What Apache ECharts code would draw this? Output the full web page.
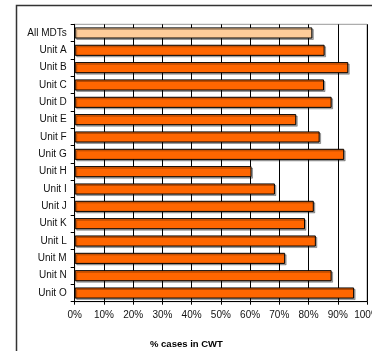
<!DOCTYPE html>
<html>
<head>
<meta charset="utf-8">
<script src="https://cdn.jsdelivr.net/npm/echarts@6/dist/echarts.min.js"></script>
<style>
  html, body { margin: 0; padding: 0; background: #fff; }
  #chart { width: 372px; height: 351px; }
</style>
</head>
<body>
<div id="chart"></div>
<script>
// Units listed top to bottom
const categories = ['All MDTs', 'Unit A', 'Unit B', 'Unit C', 'Unit D', 'Unit E', 'Unit F', 'Unit G',
  'Unit H', 'Unit I', 'Unit J', 'Unit K', 'Unit L', 'Unit M', 'Unit N', 'Unit O'];
// Percentage of cases in CWT
const pctInCWT = [81.3, 85.5, 93.6, 85.3, 87.9, 75.8, 83.8, 92.2, 60.5, 68.5, 81.8, 78.8, 82.5, 72.0, 87.9, 95.6];
const xTicks = [0, 10, 20, 30, 40, 50, 60, 70, 80, 90, 100];

const FONT = '"Liberation Sans", Arial, sans-serif';

const barData = pctInCWT.map((v, i) => ({
  value: v,
  itemStyle: { color: i === 0 ? '#FFCC99' : '#FF6600' }
}));

const chart = echarts.init(document.getElementById('chart'), null, { renderer: 'canvas' });
chart.setOption({
  animation: false,
  backgroundColor: '#fff',
  grid: {
    left: 74.7, right: 5, top: 24.3, bottom: 49.3,
    outerBoundsMode: 'none',
    show: true, borderColor: '#999', borderWidth: 1, backgroundColor: 'transparent'
  },
  xAxis: {
    type: 'value',
    min: xTicks[0], max: xTicks[xTicks.length - 1], interval: 10,
    axisLine: { show: true, lineStyle: { color: '#000', width: 1 } },
    axisTick: { show: true, length: 3, lineStyle: { color: '#000' } },
    axisLabel: { formatter: '{value}%', color: '#111', fontFamily: FONT, fontSize: 10, margin: 9 },
    splitLine: { show: true, lineStyle: { color: '#000', width: 1 } }
  },
  yAxis: {
    type: 'category',
    data: categories,
    inverse: true,
    axisLine: { show: true, lineStyle: { color: '#000', width: 1 } },
    axisTick: { show: true, length: 4, lineStyle: { color: '#000' } },
    axisLabel: { color: '#111', fontFamily: FONT, fontSize: 10, margin: 8 },
    splitLine: { show: false }
  },
  title: {
    text: '% cases in CWT',
    left: 145, top: 334,
    textStyle: { fontFamily: FONT, fontSize: 9.5, fontWeight: 'bold', color: '#000' }
  },
  graphic: [{
    type: 'rect',
    shape: { x: 16.5, y: 5.5, width: 400, height: 400 },
    style: { fill: null, stroke: '#333', lineWidth: 1.5 },
    silent: true, z: 100
  }],
  series: [{
    type: 'bar',
    data: barData,
    barCategoryGap: '36%',
    itemStyle: {
      borderColor: '#000', borderWidth: 1,
      shadowColor: 'rgba(0,0,0,0.3)', shadowOffsetX: 1.5, shadowOffsetY: 1.5, shadowBlur: 0
    }
  }]
});
</script>
</body>
</html>
